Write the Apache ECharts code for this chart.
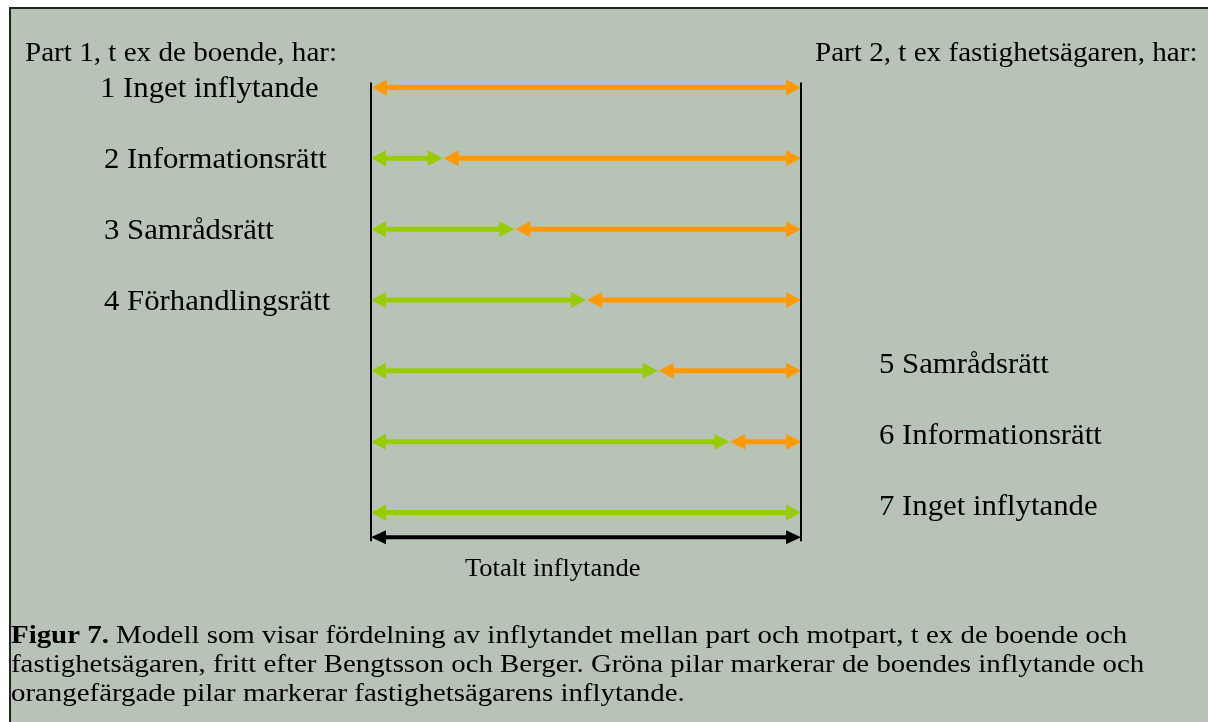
<!DOCTYPE html>
<html>
<head>
<meta charset="utf-8">
<script src="https://cdn.jsdelivr.net/npm/echarts@6/dist/echarts.min.js"></script>
<style>
html,body{margin:0;padding:0;background:#fff;}
#main{width:1208px;height:722px;}
</style>
</head>
<body>
<div id="main"></div>
<script>
// rader i modellen, nivå 1..7 uppifrån
var levels = [1, 2, 3, 4, 5, 6, 7];
// part 1:s (de boendes) andel av totalt inflytande, i sjättedelar
var partOneShare = [0, 1, 2, 3, 4, 5, 6];
var totalShare = 6;
var rowLabels = ['1 Inget inflytande', '2 Informationsrätt', '3 Samrådsrätt', '4 Förhandlingsrätt',
  '5 Samrådsrätt', '6 Informationsrätt', '7 Inget inflytande'];
var labelSide = ['left', 'left', 'left', 'left', 'right', 'right', 'right'];
var totalLevel = [7.35];
var totalLabel = 'Totalt inflytande';
var headerLeft = 'Part 1, t ex de boende, har:';
var headerRight = 'Part 2, t ex fastighetsägaren, har:';
var captionBold = 'Figur 7.';
var captionLines = [
  ' Modell som visar fördelning av inflytandet mellan part och motpart, t ex de boende och',
  'fastighetsägaren, fritt efter Bengtsson och Berger. Gröna pilar markerar de boendes inflytande och',
  'orangefärgade pilar markerar fastighetsägarens inflytande.'
];

var GREEN = '#99cc00', ORANGE = '#ff9900', BG = '#b8c3b8';
var FONT = '"Liberation Serif", "Times New Roman", serif';

var rowData = levels.map(function(l, i){ return [l, partOneShare[i]]; });

function arrow(xa, xb, y, color, w, hl, hw){
  return [
    {type:'rect', shape:{x:xa+hl-1, y:y-w/2, width:xb-xa-2*hl+2, height:w}, style:{fill:color}},
    {type:'polygon', shape:{points:[[xa,y],[xa+hl,y-hw],[xa+hl,y+hw]]}, style:{fill:color}},
    {type:'polygon', shape:{points:[[xb,y],[xb-hl,y-hw],[xb-hl,y+hw]]}, style:{fill:color}}
  ];
}

function renderRow(params, api){
  var i = params.dataIndex;
  var level = api.value(0), share = api.value(1);
  var p0 = api.coord([0, level]);
  var ps = api.coord([share, level]);
  var p1 = api.coord([totalShare, level]);
  var kids = [];
  if(share > 0) kids = kids.concat(arrow(p0[0], ps[0], p0[1], GREEN, 5, 15, 8));
  if(share < totalShare) kids = kids.concat(arrow(ps[0] + 1, p1[0], p0[1], ORANGE, 5, 15, 8));
  var left = labelSide[i] == 'left';
  kids.push({
    type:'text',
    x: left ? (i == 0 ? 100 : 104) : 879,
    y: p0[1] + (left ? 2 : -5),
    scaleX: 1.06,
    style:{
      text: rowLabels[i], x:0, y:0,
      fill:'#000', fontSize:29, fontFamily:FONT, verticalAlign:'middle', align:'left'
    }
  });
  return {type:'group', children:kids};
}

function renderTotal(params, api){
  var level = api.value(0);
  var p0 = api.coord([0, level]);
  var p1 = api.coord([totalShare, level]);
  var top0 = api.coord([0, levels[0]]);
  var kids = [
    {type:'line', shape:{x1:p0[0], y1:top0[1] - 5, x2:p0[0], y2:p0[1] + 4}, style:{stroke:'#000', lineWidth:2}},
    {type:'line', shape:{x1:p1[0], y1:top0[1] - 5, x2:p1[0], y2:p0[1] + 4}, style:{stroke:'#000', lineWidth:2}}
  ];
  kids = kids.concat(arrow(p0[0], p1[0], p0[1], '#000', 4, 15, 7));
  kids.push({
    type:'text',
    x: 465, y: p0[1] + 32, scaleX: 1.06,
    style:{text: totalLabel, x:0, y:0, fill:'#000',
      fontSize:25, fontFamily:FONT, align:'left', verticalAlign:'middle'}
  });
  return {type:'group', children:kids};
}

var myChart = echarts.init(document.getElementById('main'));
var option = {
  backgroundColor:'#fff',
  animation:false,
  graphic:[
    {type:'rect', z:-10, shape:{x:10, y:8, width:1220, height:740},
      style:{fill:BG, stroke:'#222', lineWidth:2}},
    {type:'text', x:25, y:40, scaleX:1.04, style:{text:headerLeft, fill:'#000', fontSize:28, fontFamily:FONT}},
    {type:'text', x:815, y:40, scaleX:1.04, style:{text:headerRight, fill:'#000', fontSize:28, fontFamily:FONT}},
    {type:'text', x:11, y:622, scaleX:1.155, style:{
      text:'{b|' + captionBold + '}' + captionLines[0] + '\n' + captionLines[1] + '\n' + captionLines[2],
      fill:'#000', fontSize:25, fontFamily:FONT, lineHeight:29,
      rich:{b:{fontWeight:'bold', fontSize:25, fontFamily:FONT, fill:'#000', lineHeight:29}}
    }}
  ],
  grid:{left:371, width:430, top:52, height:496},
  xAxis:{type:'value', min:0, max:totalShare, show:false},
  yAxis:{type:'value', min:0.5, max:7.5, inverse:true, show:false},
  series:[
    {type:'custom', renderItem:renderRow, data:rowData, silent:true},
    {type:'custom', renderItem:renderTotal, data:totalLevel.map(function(v){ return [v]; }), silent:true}
  ]
};
myChart.setOption(option);
</script>
</body>
</html>
